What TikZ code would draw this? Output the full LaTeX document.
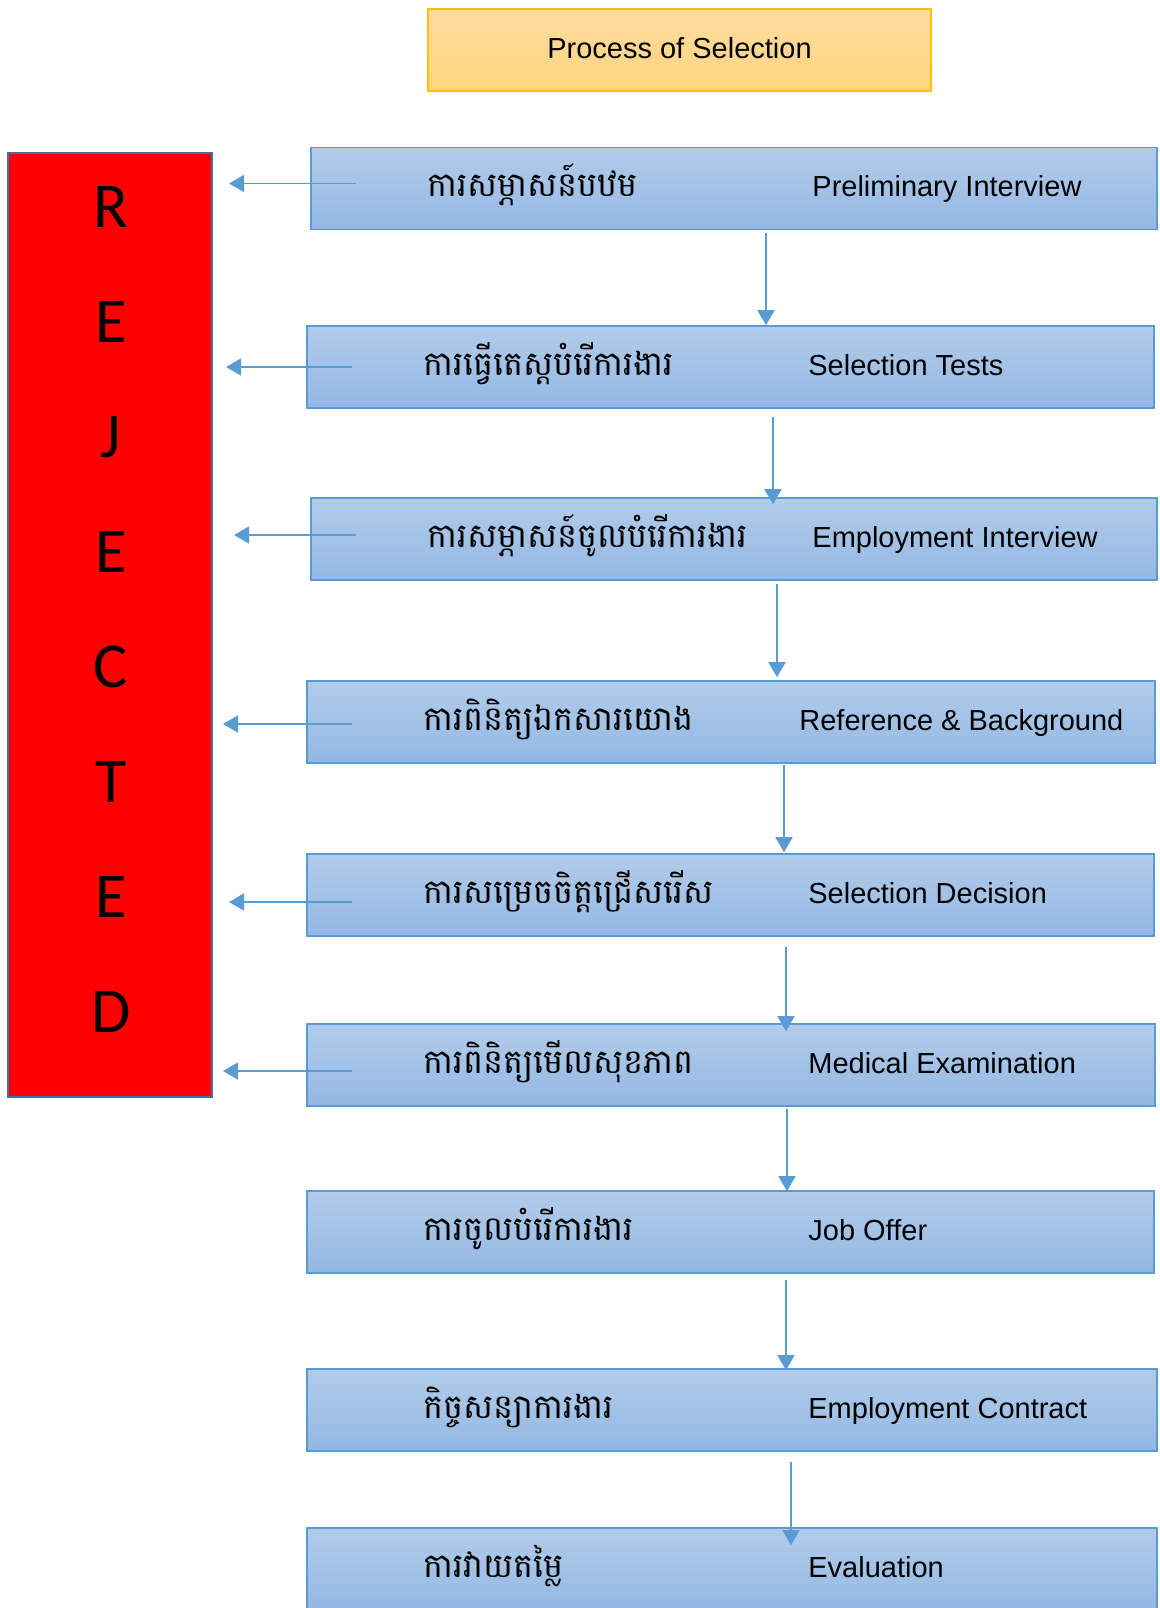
\documentclass[tikz,border=0pt]{standalone}
\usepackage{fontspec}
\setmainfont{Liberation Sans}
\newfontfamily\khmerfont[Script=Khmer]{Battambang}
\newfontfamily\rejfont{Carlito}
\usetikzlibrary{arrows.meta,calc}

\definecolor{boxtop}{HTML}{B2CCEA}
\definecolor{boxbot}{HTML}{93B8E4}
\definecolor{boxline}{HTML}{5B9BD5}
\definecolor{titletop}{HTML}{FFDDA0}
\definecolor{titlebot}{HTML}{FFD480}
\definecolor{titleline}{HTML}{FFC000}
\definecolor{rejline}{HTML}{41719C}

\tikzset{
  stepbox/.style={draw=boxline, line width=0.8pt, top color=boxtop, bottom color=boxbot,
    minimum height=41pt, inner sep=0pt},
  titlebox/.style={draw=titleline, line width=0.6pt, top color=titletop, bottom color=titlebot,
    minimum width=251.5pt, minimum height=41pt},
  titletext/.style={font=\fontsize{14.5}{17}\selectfont, inner sep=0pt},
  rejbox/.style={draw=rejline, line width=1pt, fill=red, minimum width=102pt,
    minimum height=472pt, inner sep=0pt},
  letter/.style={font=\rejfont\fontsize{32}{38}\selectfont, text height=20.6pt,
    text depth=0pt, inner sep=0pt},
  flow/.style={draw=boxline, line width=0.8pt, -{Triangle[length=7.5pt,width=8.5pt]}},
  khtext/.style={anchor=base west, font=\khmerfont\fontsize{16.8}{20}\selectfont, inner sep=0pt},
  entext/.style={anchor=base west, font=\fontsize{14.5}{17}\selectfont, inner sep=0pt}
}

\begin{document}
\begin{tikzpicture}[x=0.5pt, y=-0.5pt]
\useasboundingbox (0,0) rectangle (1160,1608);

\node[titlebox] (title) at (679.5,50) {};
\node[titletext] (titlelbl) at ($(title.center)+(0,-2)$) {Process of Selection};

% rejected column
\node[rejbox] (rej) at (110,625) {};
\foreach \l [count=\k] in {R,E,J,E,C,T,E,D}
  \node[letter] (l\k) at (111,{207+115*(\k-1)}) {\l};

% steps
\foreach \i/\cx/\cy/\w/\ex/\kh/\en in {
    1/734/188.5/846/812/{ការសម្ភាសន៍បឋម}/{Preliminary Interview},
    2/730.5/367/847/808/{ការធ្វើតេស្តបំរើការងារ}/{Selection Tests},
    3/734/539/846/812/{ការសម្ភាសន៍ចូលបំរើការងារ}/{Employment Interview},
    4/731/722/848/799/{ការពិនិត្យឯកសារយោង}/{Reference \& Background},
    5/730.5/895/847/808/{ការសម្រេចចិត្តជ្រើសរើស}/{Selection Decision},
    6/731/1065/848/808/{ការពិនិត្យមើលសុខភាព}/{Medical Examination},
    7/730.5/1232/847/808/{ការចូលបំរើការងារ}/{Job Offer},
    8/732/1410/850/808/{កិច្ចសន្យាការងារ}/{Employment Contract},
    9/732/1569/850/808/{ការវាយតម្លៃ}/{Evaluation}}
{
  \node[stepbox, minimum width=\w*0.5pt] (s\i) at (\cx,\cy) {};
  \node[khtext] (k\i) at ($(s\i.west)+(117,8)$) {\kh};
  \node[entext] (e\i) at (\ex,\cy+8) {\en};
}

% down the chain
\foreach \i/\j/\ax/\ga/\gb in {1/2/766/3/0, 2/3/773/8/7, 3/4/777/3/-3, 4/5/784/1/-1,
    5/6/786/10/8, 6/7/787/2/1, 7/8/786/6/2, 8/9/791/10/18}
{
  \coordinate (x\i) at (\ax,0);
  \draw[flow] ($(s\i.south -| x\i)+(0,\ga)$) -- ($(s\j.north -| x\i)+(0,\gb)$);
}

% to rejected
\foreach \i/\dy/\gap in {1/-5/16, 2/0/13, 3/-4/21, 4/2/10, 5/7/16, 6/6/10}
  \draw[flow] ($(s\i.west)+(46,\dy)$) coordinate (a\i) -- ($(rej.east |- a\i)+(\gap,0)$);

\end{tikzpicture}
\end{document}
